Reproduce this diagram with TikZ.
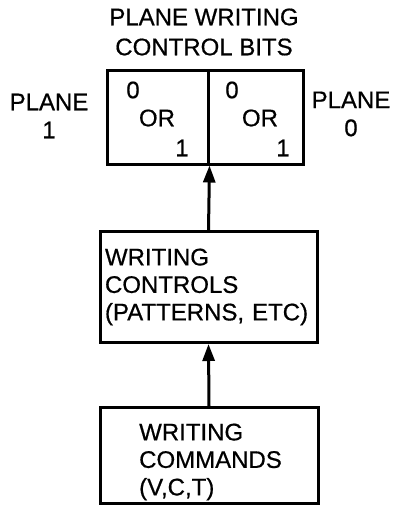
\documentclass[tikz,border=0pt]{standalone}
\usepackage{fontspec}
\setmainfont[FakeBold=0.6]{Liberation Sans}
\usetikzlibrary{arrows.meta,positioning}

\begin{document}
\begin{tikzpicture}[x=1pt,y=-1pt,
  txt/.style={inner sep=0pt,font=\fontsize{24}{28}\selectfont},
  blk/.style={draw,line width=3pt,inner sep=0pt,font=\fontsize{24}{27.5}\selectfont},
  arr/.style={line width=3pt,-{Triangle[length=17pt,width=12pt]}}]
  \useasboundingbox (0,0) rectangle (398,515);
  \node[txt,align=center,font=\fontsize{24}{30}\selectfont] (title) at (204,32) {PLANE WRITING\\CONTROL BITS};
  \node[blk,minimum width=101,minimum height=94] (cellL) at (157.5,117) {};
  \node[blk,minimum width=95,minimum height=94] (cellR) at (255.5,117) {};
  \foreach \nm/\za/\oa/\ia in {L/133/157/182,R/232/260/283} {
    \node[txt] (zero\nm) at (\za,90) {0};
    \node[txt] (or\nm) at (\oa,118) {OR};
    \node[txt] (one\nm) at (\ia,148) {1};
  }
  \node[txt,align=center] (planeL) at (49,116) {PLANE\\1};
  \node[txt,align=center] (planeR) at (351,114) {PLANE\\0};
  \node[blk,minimum width=217,minimum height=111,text width=207,align=left] (ctl) at (208.5,287) {WRITING\\CONTROLS\\(PATTERNS, ETC)};
  \node[blk,minimum width=218,minimum height=96] (cmd) at (209,455.5) {};
  \node[txt,align=left,anchor=west,font=\fontsize{24}{27.5}\selectfont] (cmdtxt) at (139,462) {WRITING\\COMMANDS\\(V,C,T)};
  \draw[arr] (ctl.north) -- (cellL.south east);
  \draw[arr] (cmd.north) -- (ctl.south);
\end{tikzpicture}
\end{document}
